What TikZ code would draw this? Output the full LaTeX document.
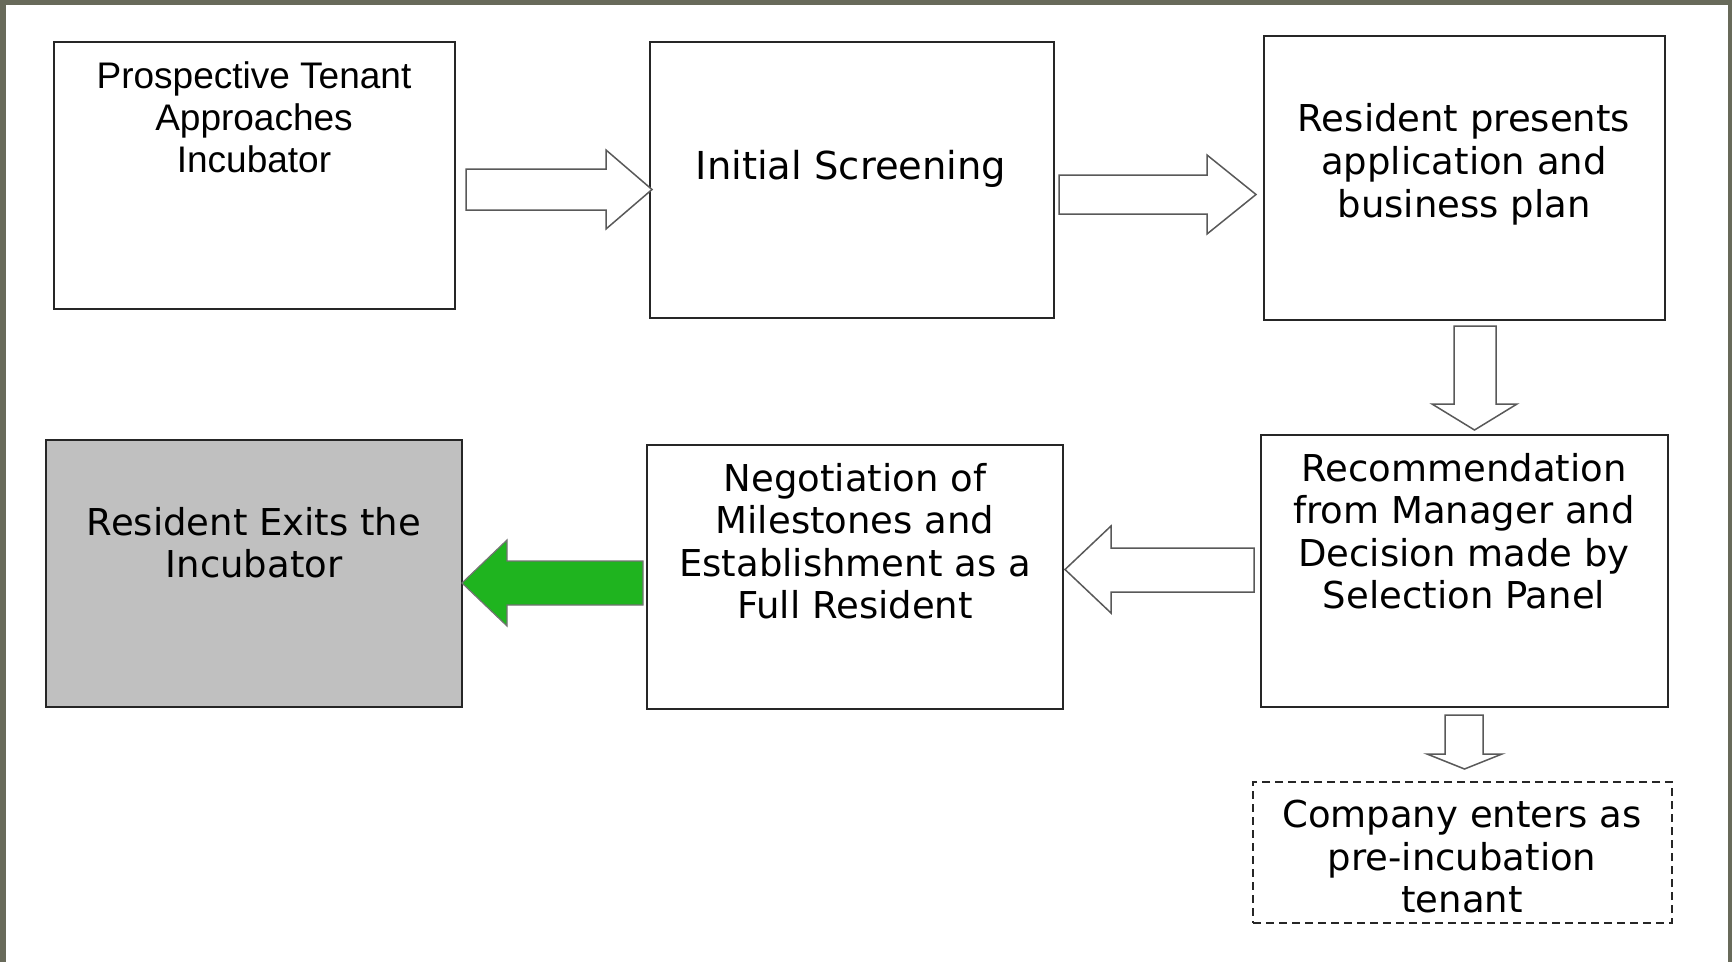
\documentclass[tikz,border=0pt]{standalone}
\usepackage{fontspec}
\setmainfont{DejaVu Sans}
\newfontfamily\arialfont{Liberation Sans}
\definecolor{frameolive}{RGB}{104,106,90}
\definecolor{exitgreen}{RGB}{31,180,31}
\definecolor{exitgray}{RGB}{192,192,192}
\begin{document}
\begin{tikzpicture}[x=1pt,y=-1pt,
  stage/.style={draw=black!85, line width=1.6pt, fill=white, inner sep=0pt, rectangle},
  label/.style={align=center, font=\fontsize{37}{42.5}\selectfont, inner sep=0pt},
  blockarrow/.style={draw=black!65, line width=1.5pt, fill=white, line join=miter},
  exitarrow/.style={draw=black!55, line width=1.2pt, fill=exitgreen, line join=miter},
]
% page frame
\fill[frameolive] (0,0) rectangle (1732,962);
\fill[white] (6,5) rectangle (1728,962);
\useasboundingbox (0,0) rectangle (1732,962);

% process boxes
\node[stage, minimum width=401pt, minimum height=267pt] (approach) at (254.5,175.5) {};
\node[stage, minimum width=404pt, minimum height=276pt] (screen) at (852,180) {};
\node[stage, minimum width=401pt, minimum height=284pt] (apply) at (1464.5,178) {};
\node[stage, minimum width=407pt, minimum height=272pt] (decide) at (1464.5,571) {};
\node[stage, minimum width=416pt, minimum height=264pt] (negotiate) at (855,577) {};
\node[stage, fill=exitgray, minimum width=416pt, minimum height=267pt] (exit) at (254,573.5) {};
\node[stage, dashed, dash pattern=on 8pt off 5pt, line width=1.4pt, minimum width=419pt, minimum height=141pt] (pre) at (1462.5,852.5) {};

% box texts
\node[label, font=\arialfont\fontsize{37}{42}\selectfont] (approachtext) at (254,117) {Prospective Tenant\\Approaches\\Incubator};
\node[label, font=\fontsize{38.5}{43}\selectfont] (screentext) at (851,169) {Initial Screening};
\node[label, font=\fontsize{37}{43}\selectfont] (applytext) at (1464,164) {Resident presents\\application and\\business plan};
\node[label] (decidetext) at (1464,531) {Recommendation\\from Manager and\\Decision made by\\Selection Panel};
\node[label] (negotiatetext) at (855,541) {Negotiation of\\Milestones and\\Establishment as a\\Full Resident};
\node[label] (exittext) at (254,542.5) {Resident Exits the\\Incubator};
\node[label] (pretext) at (1462,857) {Company enters as\\pre-incubation\\tenant};

% block arrows between the stages
\draw[blockarrow] (466,169) -- (606,169) -- (606,150) -- (652,189.5) -- (606,229) -- (606,210) -- (466,210) -- cycle;
\draw[blockarrow] (1059,175) -- (1207,175) -- (1207,155) -- (1256,194.5) -- (1207,234) -- (1207,214) -- (1059,214) -- cycle;
\draw[blockarrow] (1454,326) -- (1496,326) -- (1496,404) -- (1517,404) -- (1474.5,430) -- (1432,404) -- (1454,404) -- cycle;
\draw[blockarrow] (1254,548) -- (1111,548) -- (1111,526) -- (1065,569.5) -- (1111,613) -- (1111,592) -- (1254,592) -- cycle;
\draw[exitarrow] (643,561) -- (507,561) -- (507,540) -- (462,583) -- (507,626) -- (507,605) -- (643,605) -- cycle;
\draw[blockarrow] (1445,715) -- (1483,715) -- (1483,754) -- (1502,754) -- (1464.5,769) -- (1427,754) -- (1445,754) -- cycle;
\end{tikzpicture}
\end{document}
